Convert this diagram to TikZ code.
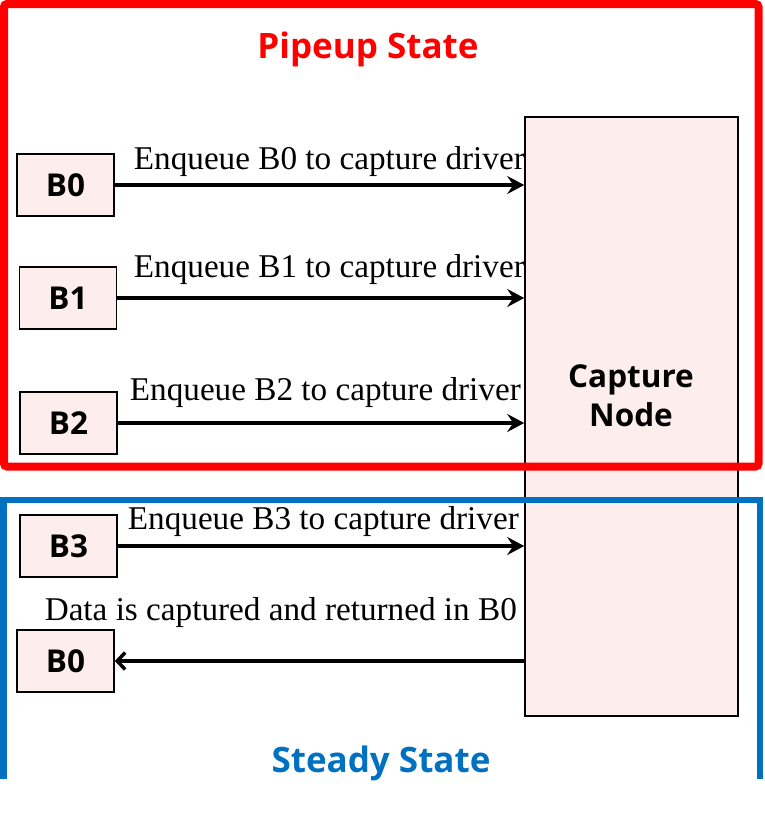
\documentclass[tikz,border=0pt]{standalone}
\usepackage{fontspec}
\setmainfont{Liberation Serif}
\newfontfamily\sansb{Open Sans}
\usetikzlibrary{arrows.meta}
\definecolor{pinkfill}{RGB}{253,237,237}
\definecolor{pipered}{RGB}{255,0,0}
\definecolor{steadyblue}{RGB}{0,112,192}
\begin{document}
\begin{tikzpicture}[x=1pt,y=-1pt,
  buf/.style={draw=black, line width=1.6pt, fill=pinkfill, minimum width=97pt, minimum height=62pt, inner sep=0pt, font=\sansb\bfseries\fontsize{31.5}{36}\selectfont},
  capbox/.style={draw=black, line width=1.6pt, fill=pinkfill, minimum width=213pt, minimum height=599pt, inner sep=0pt},
  lbl/.style={inner sep=0pt, anchor=base east, font=\fontsize{33.2}{36}\selectfont},
  title/.style={inner sep=0pt, anchor=base, font=\sansb\bfseries\fontsize{35}{40}\selectfont},
  arr/.style={line width=3.5pt, -{Stealth[length=17pt,width=18pt,inset=6pt]}},
  arrback/.style={line width=3.5pt, -{Straight Barb[length=8pt,width=17pt,line width=3.5pt]}}
]
\useasboundingbox (0,0) rectangle (764,830);
% capture node
\node[capbox] (cap) at (631.5,416.5) {};
\node[inner sep=0pt, align=center, font=\sansb\bfseries\fontsize{31.5}{39}\selectfont] (captxt) at (631,396) {Capture\\Node};
% buffers
\node[buf] (b0) at (65.5,185) {B0};
\node[buf] (b1) at (68,298) {B1};
\node[buf] (b2) at (68.5,423) {B2};
\node[buf] (b3) at (68.5,546) {B3};
\node[buf] (b0r) at (65.5,661) {B0};
% arrows
\draw[arr] (b0.east) -- (b0.east -| cap.west);
\draw[arr] (b1.east) -- (b1.east -| cap.west);
\draw[arr] (b2.east) -- (b2.east -| cap.west);
\draw[arr] (b3.east) -- (b3.east -| cap.west);
\draw[arrback] (b0r.east -| cap.west) -- (b0r.east);
% labels
\node[lbl] (l0) at (525,169) {Enqueue B0 to capture driver};
\node[lbl] (l1) at (525,277) {Enqueue B1 to capture driver};
\node[lbl] (l2) at (521,400) {Enqueue B2 to capture driver};
\node[lbl] (l3) at (519,529) {Enqueue B3 to capture driver};
\node[lbl] (l4) at (517,620) {Data is captured and returned in B0};
% frames
\draw[pipered, line width=8pt, rounded corners=3pt] (4,4) rectangle (758.5,466.5);
\draw[steadyblue, line width=6.5pt] (3.5,779) -- (3.5,500) -- (760,500) -- (760,779);
% titles
\node[title, text=pipered] (t1) at (368,58) {Pipeup State};
\node[title, text=steadyblue] (t2) at (381,772) {Steady State};
\end{tikzpicture}
\end{document}
